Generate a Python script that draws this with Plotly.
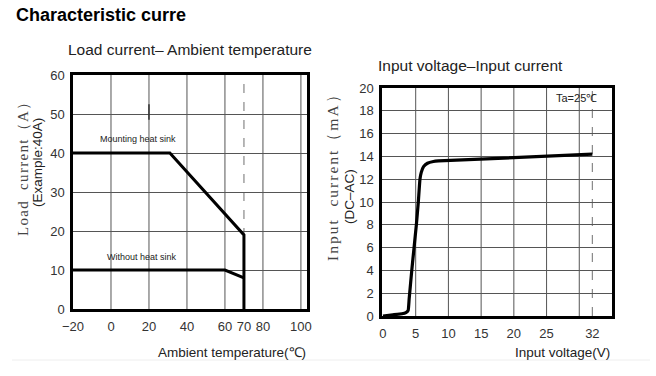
import plotly.graph_objects as go

W, H = 656, 376

# ---- data: left chart (load current vs ambient temperature) ----
mount_temp = [-20, 31, 70, 70]
mount_current = [40, 40, 19, 0]
without_temp = [-20, 60, 70]
without_current = [10, 10, 8]
left_xticks = [-20, 0, 20, 40, 60, 70, 80, 100]
left_xticklabels = ["\u221220", "0", "20", "40", "60", "70", "80", "100"]
left_xgrid = [0, 20, 40, 60, 80, 100]
left_dashed = 70
left_yticks = [0, 10, 20, 30, 40, 50, 60]
stray_mark = [20, 48.5, 52.5]   # small stray tick inside the left grid (x, y0, y1)

# ---- data: right chart (input current vs input voltage) ----
volt = [0, 1.5, 2.9, 3.5, 3.85, 4.0, 4.4, 4.75, 5.1, 5.4, 5.65, 5.85, 6.2, 6.8, 7.7, 8.5, 32]
curr = [0, 0.1, 0.2, 0.3, 0.5, 1.5, 4, 6, 8, 10, 12, 12.6, 13.1, 13.4, 13.55, 13.6, 14.2]
right_xticks = [0, 5, 10, 15, 20, 25, 32]
right_xgrid = [5, 10, 15, 20, 25, 30]
right_dashed = 32
right_yticks = list(range(0, 21, 2))

FONT = "Liberation Sans, Arial, sans-serif"
SERIF = "Liberation Serif, Times New Roman, serif"
TXT = "#222222"
GRID = "#555555"

fig = go.Figure()
fig.add_trace(go.Scatter(x=mount_temp, y=mount_current, mode="lines",
                         line=dict(color="black", width=3), xaxis="x", yaxis="y",
                         showlegend=False, hoverinfo="skip"))
fig.add_trace(go.Scatter(x=without_temp, y=without_current, mode="lines",
                         line=dict(color="black", width=3), xaxis="x", yaxis="y",
                         showlegend=False, hoverinfo="skip"))
fig.add_trace(go.Scatter(x=volt, y=curr, mode="lines",
                         line=dict(color="black", width=3.2, shape="spline", smoothing=0.4),
                         xaxis="x2", yaxis="y2", showlegend=False, hoverinfo="skip"))

shapes = []
for g in left_xgrid:
    shapes.append(dict(type="line", xref="x", yref="y domain", x0=g, x1=g, y0=0, y1=1,
                       line=dict(color=GRID, width=1), layer="below"))
shapes.append(dict(type="line", xref="x", yref="y domain", x0=left_dashed, x1=left_dashed, y0=0, y1=1,
                   line=dict(color="#888888", width=1.2, dash="dash"), layer="below"))
shapes.append(dict(type="line", xref="x", yref="y", x0=stray_mark[0], x1=stray_mark[0],
                   y0=stray_mark[1], y1=stray_mark[2], line=dict(color="#333333", width=1.5)))
for g in right_xgrid:
    shapes.append(dict(type="line", xref="x2", yref="y2 domain", x0=g, x1=g, y0=0, y1=1,
                       line=dict(color=GRID, width=1), layer="below"))
shapes.append(dict(type="line", xref="x2", yref="y2 domain", x0=right_dashed, x1=right_dashed, y0=0, y1=1,
                   line=dict(color="#888888", width=1.2, dash="dash"), layer="below"))
# faint separator line at bottom
shapes.append(dict(type="line", xref="paper", yref="paper", x0=12 / W, x1=650 / W,
                   y0=1 - 360 / H, y1=1 - 360 / H, line=dict(color="#eeeeee", width=1)))

def px(x):
    return x / W

def py(y):
    return 1 - y / H

axis_common = dict(showline=True, linecolor="black", linewidth=2.5, mirror=True,
                   zeroline=False, tickfont=dict(family=FONT, size=13, color="#333333"),
                   ticks="", fixedrange=True, automargin=False)

def spaced(t, sp):
    return "<span style='letter-spacing:%spx'>%s</span>" % (sp, t)

annotations = [
    dict(text="<b>Characteristic curre</b>", x=px(14), y=py(15), xref="paper", yref="paper",
         xanchor="left", yanchor="middle", showarrow=False,
         font=dict(family=FONT, size=18, color="black")),
    dict(text="Load current\u2013 Ambient temperature", x=px(66), y=py(49), xref="paper", yref="paper",
         xanchor="left", yanchor="middle", showarrow=False,
         font=dict(family=FONT, size=15.5, color=TXT)),
    dict(text="Input voltage\u2013Input current", x=px(376), y=py(65), xref="paper", yref="paper",
         xanchor="left", yanchor="middle", showarrow=False,
         font=dict(family=FONT, size=15.5, color=TXT)),
    dict(text="Ambient temperature(\u2103)", x=px(308), y=py(352), xref="paper", yref="paper",
         xanchor="right", yanchor="middle", showarrow=False,
         font=dict(family=FONT, size=13.5, color=TXT)),
    dict(text="Input voltage(V)", x=px(612), y=py(352), xref="paper", yref="paper",
         xanchor="right", yanchor="middle", showarrow=False,
         font=dict(family=FONT, size=13.5, color=TXT)),
    dict(text=spaced("Load  current\uff08A\uff09", 1.3), x=px(23), y=py(165), xref="paper", yref="paper",
         xanchor="center", yanchor="middle", showarrow=False, textangle=-90,
         font=dict(family=SERIF, size=15, color="#444444")),
    dict(text="(Example:40A)", x=px(37), y=py(163), xref="paper", yref="paper",
         xanchor="center", yanchor="middle", showarrow=False, textangle=-90,
         font=dict(family=FONT, size=13.5, color=TXT)),
    dict(text=spaced("Input  current\uff08mA\uff09", 2), x=px(332), y=py(173), xref="paper", yref="paper",
         xanchor="center", yanchor="middle", showarrow=False, textangle=-90,
         font=dict(family=SERIF, size=15.5, color="#444444")),
    dict(text="(DC\u2013AC)", x=px(349), y=py(197), xref="paper", yref="paper",
         xanchor="center", yanchor="middle", showarrow=False, textangle=-90,
         font=dict(family=FONT, size=13.5, color=TXT)),
    dict(text="Mounting heat sink", x=-7, y=43.5, xref="x", yref="y",
         xanchor="left", yanchor="middle", showarrow=False,
         font=dict(family=FONT, size=9, color=TXT)),
    dict(text="Without heat sink", x=-3, y=13.3, xref="x", yref="y",
         xanchor="left", yanchor="middle", showarrow=False,
         font=dict(family=FONT, size=9, color=TXT)),
    dict(text="Ta=25\u2103", x=px(576), y=py(98), xref="paper", yref="paper",
         xanchor="center", yanchor="middle", showarrow=False,
         font=dict(family=FONT, size=11, color=TXT)),
]

fig.update_layout(
    width=W, height=H,
    margin=dict(l=0, r=0, t=0, b=0, pad=0, autoexpand=False),
    paper_bgcolor="white", plot_bgcolor="white",
    showlegend=False,
    xaxis=dict(axis_common, domain=[px(73), px(307)], range=[-20, 103.2],
               tickvals=left_xticks, ticktext=left_xticklabels, showgrid=False,
               ticklabelstandoff=4, anchor="y"),
    yaxis=dict(axis_common, domain=[py(309), py(75)], range=[0, 60],
               tickvals=left_yticks, showgrid=True, gridcolor=GRID, gridwidth=1,
               ticklabelstandoff=3, anchor="x"),
    xaxis2=dict(axis_common, domain=[px(382), px(612)], range=[-0.15, 35],
                tickvals=right_xticks, showgrid=False, ticklabelstandoff=4, anchor="y2"),
    yaxis2=dict(axis_common, domain=[py(316), py(88)], range=[0, 20],
                tickvals=right_yticks, showgrid=True, gridcolor=GRID, gridwidth=1,
                ticklabelstandoff=3, anchor="x2"),
    shapes=shapes,
    annotations=annotations,
)

fig.write_html("out.html", config={"displayModeBar": False},
               post_script="document.body.style.margin='0';document.body.style.overflow='hidden';")
